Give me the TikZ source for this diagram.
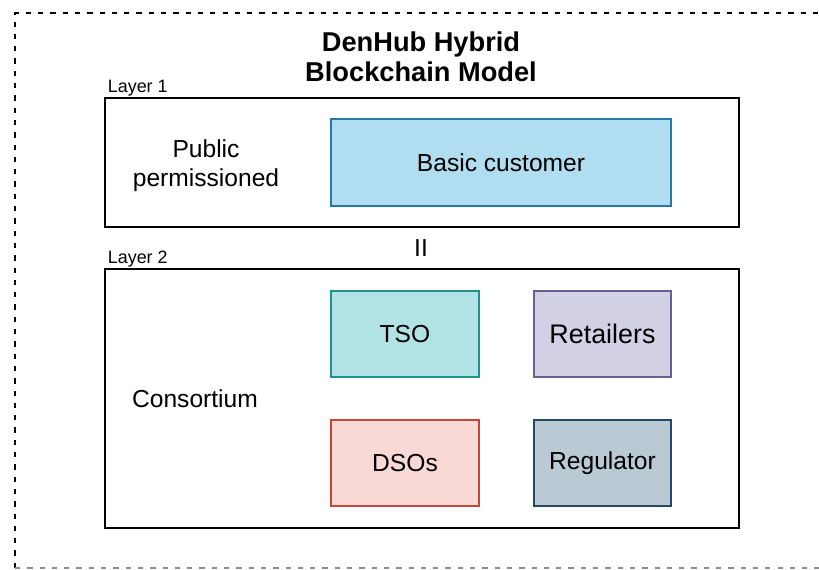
\documentclass[tikz,border=0pt]{standalone}
\usepackage{fontspec}
\setmainfont{Liberation Sans}
\usetikzlibrary{positioning}

\definecolor{custfill}{HTML}{B0DDEF}
\definecolor{custline}{HTML}{2479A6}
\definecolor{tsofill}{HTML}{B1E3E4}
\definecolor{tsoline}{HTML}{21918F}
\definecolor{retfill}{HTML}{D2D0E5}
\definecolor{retline}{HTML}{6A5E94}
\definecolor{dsofill}{HTML}{F9D9D6}
\definecolor{dsoline}{HTML}{C4473A}
\definecolor{regfill}{HTML}{BACAD5}
\definecolor{regline}{HTML}{25486A}

\tikzstyle{layerbox} = [
  draw=black,
  line width=1.2pt,
  minimum width=12.68cm,
  inner sep=0pt,
]
\tikzstyle{actor} = [
  line width=1pt,
  minimum height=1.72cm,
  inner sep=0pt,
  font=\fontsize{14pt}{17pt}\selectfont,
]
\tikzstyle{layerlabel} = [
  inner sep=1pt,
  font=\fontsize{10.2pt}{12pt}\selectfont,
]
\tikzstyle{frame} = [
  line width=1.1pt,
  dash pattern=on 3pt off 4pt,
]

\begin{document}
\begin{tikzpicture}[x=0.02cm, y=-0.02cm]
    \clip (0,0) rectangle (819,570);

    % Frame
    \draw[frame] (15,568) -- (15,13) -- (840,13);
    \draw[frame, black!45] (15,568) -- (840,568);

    % Title
    \node[align=center, font=\bfseries\fontsize{15.5pt}{17pt}\selectfont] (title) at (421,57)
        {DenHub Hybrid\\Blockchain Model};

    % Layers
    \node[layerbox, minimum height=2.58cm] (layer1) at (422,162.5) {};
    \node[layerbox, minimum height=5.18cm] (layer2) at (422,398.5) {};
    \node[layerlabel, above right=-0.5pt and 1pt of layer1.north west] (lab1) {Layer 1};
    \node[layerlabel, above right=-0.5pt and 1pt of layer2.north west] (lab2) {Layer 2};

    \node[align=center, font=\fontsize{14pt}{16.5pt}\selectfont] (public) at (206,166)
        {Public\\permissioned};
    \node[font=\fontsize{14pt}{17pt}\selectfont] (consortium) at (195,399) {Consortium};
    \node[font=\fontsize{14pt}{17pt}\selectfont] (sep) at (421,248) {II};

    % Participants
    \node[actor, draw=custline, fill=custfill, minimum width=6.8cm, minimum height=1.74cm]
        (customer) at (501,162.5) {Basic customer};
    \node[actor, draw=tsoline, fill=tsofill, minimum width=2.96cm] (tso) at (405,334) {TSO};
    \node[actor, draw=retline, fill=retfill, minimum width=2.74cm,
          font=\fontsize{15.3pt}{17pt}\selectfont] (retailers) at (602.5,334) {Retailers};
    \node[actor, draw=dsoline, fill=dsofill, minimum width=2.96cm] (dsos) at (405,463) {DSOs};
    \node[actor, draw=regline, fill=regfill, minimum width=2.74cm] (regulator) at (602.5,463) {Regulator};
\end{tikzpicture}
\end{document}
